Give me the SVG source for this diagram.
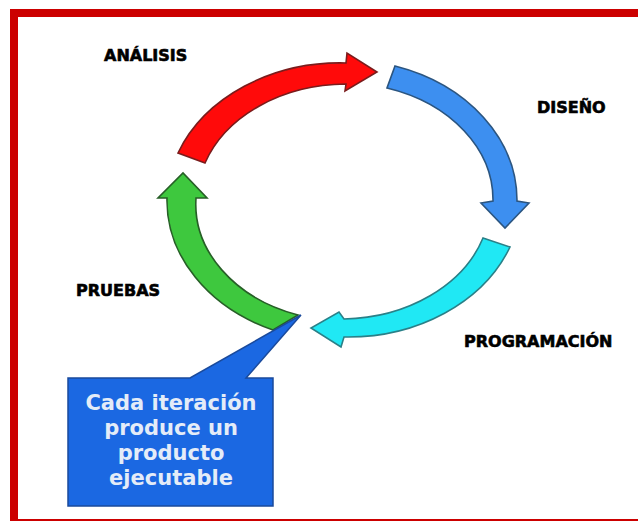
<svg xmlns="http://www.w3.org/2000/svg" width="638" height="521" viewBox="0 0 638 521">
<style>
.lbl{font-family:"DejaVu Sans","Liberation Sans",sans-serif;font-weight:bold;font-size:16px;fill:#000;stroke:#000;stroke-width:0.6}
.arr{stroke-width:1.6;stroke-linejoin:miter}
.call{font-family:"DejaVu Sans","Liberation Sans",sans-serif;font-weight:bold;font-size:21px;fill:#e4ecf8;text-anchor:middle}
</style>
<rect width="638" height="521" fill="#fff"/>
<rect id="frame" x="14" y="13" width="640" height="510" fill="none" stroke="#cc0000" stroke-width="8"/>
<g id="connectors">
<path id="arrow-analisis" class="arr" fill="#ff0a0a" stroke="#7a1c1c" d="M178,153 A174,141 0 0 1 346,63 L347,53 L377,72 L345,91 L346,84 A150,117 0 0 0 205,163 Z"/>
<path id="arrow-diseno" class="arr" fill="#3d8ff0" stroke="#2b5580" d="M395,66 A174,141 0 0 1 517,201 L529,203 L505,228 L481,203 L493,201 A150,117 0 0 0 387,88 Z"/>
<path id="arrow-programacion" class="arr" fill="#20e8f4" stroke="#2a8088" d="M510,247 A174,141 0 0 1 344,337 L341,347 L311,328 L339,312 L344,319 A150,117 0 0 0 483,238 Z"/>
<path id="arrow-pruebas" class="arr" fill="#3ec83e" stroke="#275f27" d="M273,330 A174,141 0 0 1 167,198 L158,198 L183,173 L207,198 L196,198 A150,117 0 0 0 298,315 Z"/>
</g>
<g id="analisis"><text class="lbl" x="104" y="61">ANÁLISIS</text></g>
<g id="diseno"><text class="lbl" x="537" y="113">DISEÑO</text></g>
<g id="programacion"><text class="lbl" x="464" y="347">PROGRAMACIÓN</text></g>
<g id="pruebas"><text class="lbl" x="76" y="296">PRUEBAS</text></g>
<g id="callout">
<path d="M68,378 L190,378 L301,315 L246,378 L273,378 L273,506 L68,506 Z" fill="#1b68e2" stroke="#1a4a9c" stroke-width="1.5"/>
<text class="call" x="171" y="410">Cada iteración</text>
<text class="call" x="171" y="435">produce un</text>
<text class="call" x="171" y="460">producto</text>
<text class="call" x="171" y="485">ejecutable</text>
</g>
</svg>
